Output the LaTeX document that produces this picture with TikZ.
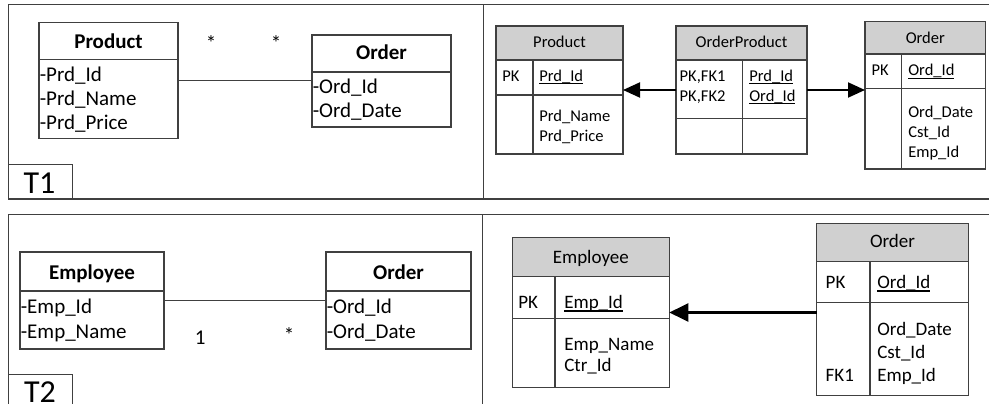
\documentclass[tikz,border=0pt]{standalone}
\usepackage{fontspec}
\setmainfont{Carlito}
\usetikzlibrary{arrows.meta}
\definecolor{linec}{HTML}{404040}
\definecolor{hdrgray}{HTML}{D0D0D0}
% key attribute: underline drawn level with the underscore
\newcommand\keyline[1]{\setbox0\hbox{#1}\rlap{\rule[-0.17em]{\wd0}{0.07em}}\box0}
\begin{document}
\begin{tikzpicture}[x=1pt,y=-1pt,
  rule/.style={draw=linec,line width=1.5pt},
  box/.style={draw=linec,line width=1.5pt,anchor=north west,inner sep=0pt,outer sep=0pt},
  big/.style={font=\fontsize{21}{25}\selectfont},
  bigb/.style={font=\fontsize{21}{25}\selectfont\bfseries},
  mid/.style={font=\fontsize{16.5}{20}\selectfont},
  lrg/.style={font=\fontsize{19}{23}\selectfont},
  tag/.style={font=\fontsize{32}{36}\selectfont},
  lbl/.style={anchor=base west,inner sep=0pt,outer sep=0pt},
  ctr/.style={anchor=base,inner sep=0pt,outer sep=0pt},
  assoc/.style={draw=linec,line width=1.5pt},
  fkarrow/.style={draw=black,line width=2pt,-{Triangle[length=17pt,width=15pt]}},
  fkarrowb/.style={draw=black,line width=2.2pt,-{Triangle[length=19pt,width=18pt]}},
]
\useasboundingbox (0,0) rectangle (989,404);

% ---------- panel frames ----------
\draw[rule] (8.7,199) -- (8.7,4.7) -- (989,4.7);
\draw[rule] (8.7,199) -- (989,199);
\draw[rule] (483.7,4.7) -- (483.7,199);
\draw[rule] (8.7,404) -- (8.7,214.3) -- (989,214.3);
\draw[rule] (482.3,214.3) -- (482.3,404);
\node[box,minimum width=64pt,minimum height=34.3pt] (tonebox) at (8.7,164.7) {};
\node[ctr,tag] (tone) at (39.5,193.3) {T1};
\node[box,minimum width=64pt,minimum height=35pt] (ttwobox) at (8.7,374.7) {};
\node[ctr,tag] (ttwo) at (40,402) {T2};

% ---------- T1: class diagram ----------
\node[box,minimum width=139pt,minimum height=115.6pt] (aprod) at (39,22.7) {};
\draw[rule] (39,59.3) -- (178,59.3);
\node[ctr,bigb] (aprodh) at (108.5,48.3) {Product};
\node[lbl,big] (aprod1) at (39.8,81.3) {-Prd\_Id};
\node[lbl,big] (aprod2) at (39.8,105.6) {-Prd\_Name};
\node[lbl,big] (aprod3) at (39.8,129.8) {-Prd\_Price};

\node[box,minimum width=139pt,minimum height=92pt] (aord) at (312,35) {};
\draw[rule] (312,72) -- (451,72);
\node[ctr,bigb] (aordh) at (381.5,59.5) {Order};
\node[lbl,big] (aord1) at (312.8,93.3) {-Ord\_Id};
\node[lbl,big] (aord2) at (312.8,117.3) {-Ord\_Date};

\draw[assoc] (aprod.east) -- (aprod.east -| aord.west);
\node[ctr,big] (amulta) at (211,51) {*};
\node[ctr,big] (amultb) at (276,51) {*};

% ---------- T1: tables ----------
\fill[hdrgray] (496,26) rectangle (623,60);
\node[box,minimum width=127pt,minimum height=128pt] (bprod) at (496,26) {};
\draw[rule] (496,60) -- (623,60);
\draw[rule] (496,95) -- (623,95);
\draw[rule] (533,60) -- (533,154);
\node[ctr,mid] (bprodh) at (559.5,48) {Product};
\node[lbl,mid] (bprodk) at (502.3,81.5) {PK};
\node[lbl,mid] (bprod1) at (539.3,81.5) {\keyline{Prd\_Id}};
\node[lbl,mid] (bprod2) at (539.3,121.7) {Prd\_Name};
\node[lbl,mid] (bprod3) at (539.3,142) {Prd\_Price};

\fill[hdrgray] (676,26) rectangle (807,60);
\node[box,minimum width=131pt,minimum height=128pt] (bop) at (676,26) {};
\draw[rule] (676,60) -- (807,60);
\draw[rule] (676,118.3) -- (807,118.3);
\draw[rule] (742.7,60) -- (742.7,154);
\node[ctr,mid] (boph) at (741.5,48) {OrderProduct};
\node[lbl,mid] (bopk1) at (679.7,81.5) {PK,FK1};
\node[lbl,mid] (bopk2) at (679.7,101.5) {PK,FK2};
\node[lbl,mid] (bop1) at (749.3,81.5) {\keyline{Prd\_Id}};
\node[lbl,mid] (bop2) at (749.3,101.5) {\keyline{Ord\_Id}};

\fill[hdrgray] (865,21.7) rectangle (985.7,54);
\node[box,minimum width=120.7pt,minimum height=147.3pt] (bord) at (865,21.7) {};
\draw[rule] (865,54) -- (985.7,54);
\draw[rule] (865,88.7) -- (985.7,88.7);
\draw[rule] (901.3,54) -- (901.3,169);
\node[ctr,mid] (bordh) at (925.3,43.3) {Order};
\node[lbl,mid] (bordk) at (871.7,76) {PK};
\node[lbl,mid] (bord1) at (908.3,76) {\keyline{Ord\_Id}};
\node[lbl,mid] (bord2) at (908.3,117.3) {Ord\_Date};
\node[lbl,mid] (bord3) at (908.3,137) {Cst\_Id};
\node[lbl,mid] (bord4) at (908.3,157.3) {Emp\_Id};

\draw[fkarrow] (bop.west) -- (bprod.east);
\draw[fkarrow] (bop.east) -- (bop.east -| bord.west);

% ---------- T2: class diagram ----------
\node[box,minimum width=144pt,minimum height=97pt] (cemp) at (20,252) {};
\draw[rule] (20,291) -- (164,291);
\node[ctr,bigb] (cemph) at (92,279) {Employee};
\node[lbl,big] (cemp1) at (20.8,313.3) {-Emp\_Id};
\node[lbl,big] (cemp2) at (20.8,338.3) {-Emp\_Name};

\node[box,minimum width=145pt,minimum height=97pt] (cord) at (326,252) {};
\draw[rule] (326,291) -- (471,291);
\node[ctr,bigb] (cordh) at (398.5,279) {Order};
\node[lbl,big] (cord1) at (326.8,313.3) {-Ord\_Id};
\node[lbl,big] (cord2) at (326.8,338.3) {-Ord\_Date};

\draw[assoc] (cemp.east) -- (cord.west);
\node[ctr,big] (cmulta) at (200.3,344.3) {1};
\node[ctr,big] (cmultb) at (289,342.7) {*};

% ---------- T2: tables ----------
\fill[hdrgray] (512.3,237.3) rectangle (669.3,276.7);
\node[box,minimum width=157pt,minimum height=150.4pt] (demp) at (512.3,237.3) {};
\draw[rule] (512.3,276.7) -- (669.3,276.7);
\draw[rule] (512.3,318.3) -- (669.3,318.3);
\draw[rule] (555,276.7) -- (555,387.7);
\node[ctr,lrg] (demph) at (590.8,263) {Employee};
\node[lbl,lrg] (dempk) at (518.3,308.3) {PK};
\node[lbl,lrg] (demp1) at (564.3,308.3) {\keyline{Emp\_Id}};
\node[lbl,lrg] (demp2) at (564.3,350.7) {Emp\_Name};
\node[lbl,lrg] (demp3) at (564.3,371.7) {Ctr\_Id};

\fill[hdrgray] (816.7,223.3) rectangle (968.3,261.7);
\node[box,minimum width=151.6pt,minimum height=172.4pt] (dord) at (816.7,223.3) {};
\draw[rule] (816.7,261.7) -- (968.3,261.7);
\draw[rule] (816.7,302.3) -- (968.3,302.3);
\draw[rule] (870,261.7) -- (870,395.7);
\node[ctr,lrg] (dordh) at (892.5,247.7) {Order};
\node[lbl,lrg] (dordk) at (825.7,288.3) {PK};
\node[lbl,lrg] (dord1) at (877.3,288.3) {\keyline{Ord\_Id}};
\node[lbl,lrg] (dord2) at (877.3,335) {Ord\_Date};
\node[lbl,lrg] (dord3) at (877.3,358.3) {Cst\_Id};
\node[lbl,lrg] (dord4) at (877.3,381.7) {Emp\_Id};
\node[lbl,lrg] (dordf) at (825.7,381.7) {FK1};

\draw[fkarrowb] (dord.west |- demp.east) -- (demp.east);
\end{tikzpicture}
\end{document}
